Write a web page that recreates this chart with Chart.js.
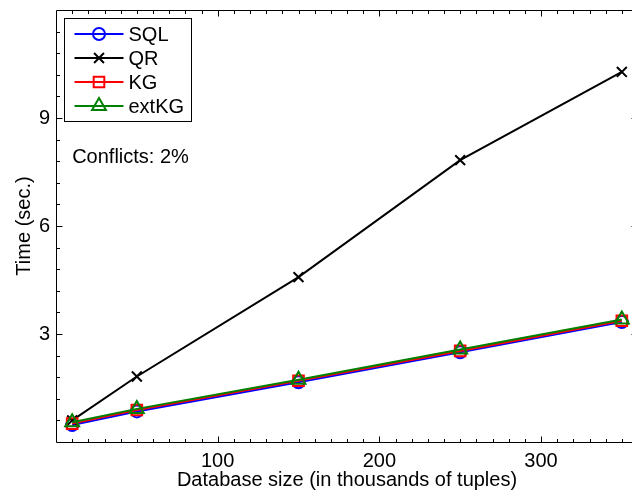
<!DOCTYPE html>
<html>
<head>
<meta charset="utf-8">
<script src="https://cdn.jsdelivr.net/npm/chart.js@4"></script>
<style>
    html, body { margin: 0; padding: 0; background: #fff; }
    /* the original figure is cut off on the right, so the canvas is a bit wider than the page */
    #wrap { width: 632px; height: 492px; overflow: hidden; }
</style>
</head>
<body>
<div id="wrap"><canvas id="chart" width="648" height="492"></canvas></div>
<script>
// =====================================
// DATA
// =====================================
const dbSizes = [10, 50, 150, 250, 350];          // thousands of tuples
const sqlTimes = [0.47, 0.85, 1.66, 2.49, 3.33];
const qrTimes = [0.60, 1.82, 4.58, 7.83, 10.28];
const kgTimes = [0.51, 0.89, 1.70, 2.53, 3.37];
const extKgTimes = [0.55, 0.92, 1.73, 2.57, 3.40];

const seriesNames = ["SQL", "QR", "KG", "extKG"];
const xTickValues = [100, 200, 300];
const yTickValues = [3, 6, 9];

const noteText = "Conflicts: 2%";
const noteX = 10;
const noteY = 7.9;

const FONT = "'Liberation Sans', Arial, Helvetica, sans-serif";
const FONT_SIZE = 20;

function toPoints(values) {
    return dbSizes.map((x, i) => ({ x: x, y: values[i] }));
}

function makeSeries(name, values, color, style, radius, order) {
    return {
        label: name,
        data: toPoints(values),
        borderColor: color,
        backgroundColor: color,
        borderWidth: 2,
        pointStyle: style,
        pointRadius: radius,
        pointHoverRadius: radius,
        pointBorderWidth: 2,
        pointBorderColor: color,
        pointBackgroundColor: "rgba(0,0,0,0)",
        tension: 0,
        order: order
    };
}

// =====================================
// FRAME, INWARD TICKS, LEGEND, NOTE
// =====================================
const framePlugin = {
    id: "frame",
    afterDatasetsDraw(chart) {
        const ctx = chart.ctx;
        const a = chart.chartArea;
        const xs = chart.scales.x;
        const ys = chart.scales.y;

        ctx.save();
        ctx.strokeStyle = "#000";
        ctx.lineWidth = 1;

        const L = Math.round(a.left) + 0.5;
        const R = Math.round(a.right) - 0.5;
        const T = Math.round(a.top) + 0.5;
        const B = Math.round(a.bottom) + 0.5;

        ctx.beginPath();
        ctx.moveTo(L, T); ctx.lineTo(R, T); ctx.lineTo(R, B); ctx.lineTo(L, B); ctx.closePath();
        ctx.stroke();

        // x ticks (bottom and top), minor every 10
        ctx.beginPath();
        for (let v = 10; v < xs.max; v += 10) {
            const major = xTickValues.includes(v);
            const len = major ? 6 : 3.5;
            const px = Math.round(xs.getPixelForValue(v)) + 0.5;
            ctx.moveTo(px, B); ctx.lineTo(px, B - len);
            ctx.moveTo(px, T); ctx.lineTo(px, T + len);
        }
        // y ticks (left and right), minor every 0.6
        for (let k = 1; k * 0.6 < ys.max - 0.01; k++) {
            const v = Math.round(k * 0.6 * 10) / 10;
            const major = yTickValues.includes(v);
            const len = major ? 6 : 3.5;
            const py = Math.round(ys.getPixelForValue(v)) + 0.5;
            ctx.moveTo(L, py); ctx.lineTo(L + len, py);
            ctx.moveTo(R, py); ctx.lineTo(R - len, py);
        }
        ctx.stroke();

        // note text
        ctx.fillStyle = "#000";
        ctx.font = FONT_SIZE + "px " + FONT;
        ctx.textAlign = "left";
        ctx.textBaseline = "middle";
        ctx.fillText(noteText, xs.getPixelForValue(noteX), ys.getPixelForValue(noteY));

        // legend box
        const bx = Math.round(a.left) + 8.5;
        const by = Math.round(a.top) + 8.5;
        const bw = 127;
        const bh = 103;
        ctx.fillStyle = "#fff";
        ctx.fillRect(bx, by, bw, bh);
        ctx.strokeRect(bx, by, bw, bh);

        chart.data.datasets.forEach((ds, i) => {
            const rowY = by + 15.5 + i * 24;
            ctx.strokeStyle = ds.borderColor;
            ctx.lineWidth = ds.borderWidth;
            ctx.beginPath();
            ctx.moveTo(bx + 10, rowY);
            ctx.lineTo(bx + 59, rowY);
            ctx.stroke();

            ctx.fillStyle = "rgba(0,0,0,0)";
            ctx.lineWidth = ds.pointBorderWidth;
            Chart.helpers.drawPoint(ctx, {
                pointStyle: ds.pointStyle,
                radius: ds.pointRadius,
                borderWidth: ds.pointBorderWidth,
                rotation: 0
            }, bx + 34.5, rowY);

            ctx.fillStyle = "#000";
            ctx.fillText(ds.label, bx + 64, rowY + 1);
        });

        ctx.restore();
    }
};

// =====================================
// CHART
// =====================================
Chart.defaults.font.family = FONT;
Chart.defaults.font.size = FONT_SIZE;
Chart.defaults.color = "#000";

new Chart(document.getElementById("chart"), {
    type: "line",
    data: {
        datasets: [
            makeSeries(seriesNames[0], sqlTimes, "#0000ff", "circle", 6, 3),
            makeSeries(seriesNames[1], qrTimes, "#000000", "crossRot", 7, 2),
            makeSeries(seriesNames[2], kgTimes, "#ff0000", "rect", 7.5, 1),
            makeSeries(seriesNames[3], extKgTimes, "#008000", "triangle", 8, 0)
        ]
    },
    options: {
        responsive: false,
        animation: false,
        devicePixelRatio: 1,
        layout: { padding: { top: 5, right: 0, bottom: 0, left: 0 } },
        plugins: {
            legend: { display: false },
            tooltip: { enabled: false }
        },
        scales: {
            x: {
                type: "linear",
                min: 0,
                max: 360,
                afterBuildTicks: scale => { scale.ticks = xTickValues.map(v => ({ value: v })); },
                afterFit: scale => {
                    scale.height = 50;
                    scale.paddingLeft = 0;
                    scale.paddingRight = 0;
                },
                grid: { display: false, drawTicks: false },
                border: { display: false },
                ticks: { padding: 7, maxRotation: 0, autoSkip: false },
                title: {
                    display: true,
                    text: "Database size (in thousands of tuples)",
                    padding: { top: 0, bottom: 0 }
                }
            },
            y: {
                type: "linear",
                min: 0,
                max: 12,
                afterBuildTicks: scale => { scale.ticks = yTickValues.map(v => ({ value: v })); },
                afterFit: scale => {
                    scale.width = 56;
                    scale.paddingTop = 0;
                    scale.paddingBottom = 0;
                },
                grid: { display: false, drawTicks: false },
                border: { display: false },
                ticks: { padding: 6 },
                title: {
                    display: true,
                    text: "Time (sec.)",
                    padding: { top: 12, bottom: 0 }
                }
            }
        }
    },
    plugins: [framePlugin]
});
</script>
</body>
</html>
